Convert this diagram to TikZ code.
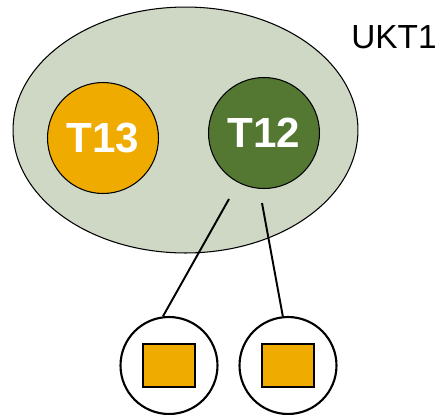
\documentclass[tikz,border=0pt]{standalone}
\usepackage{fontspec}
\setmainfont{Liberation Sans}
\usetikzlibrary{shapes.geometric,positioning}
\definecolor{unitbg}{RGB}{207,216,197}
\definecolor{amber}{RGB}{240,171,0}
\definecolor{leafgreen}{RGB}{84,120,50}
\tikzset{
    unit/.style  = {ellipse, draw=black, line width=0.6pt, fill=unitbg, inner sep=0pt,
                    minimum width=6.9cm, minimum height=4.92cm},
    task/.style  = {circle, draw=black, line width=0.6pt, inner sep=0pt, minimum size=2.22cm,
                    text=white, font=\fontsize{24}{27}\selectfont\bfseries},
    leaf/.style  = {circle, draw=black, line width=1.2pt, fill=white, inner sep=0pt, minimum size=1.94cm},
    block/.style = {rectangle, draw=black, line width=1pt, fill=amber, inner sep=0pt,
                    minimum width=1.05cm, minimum height=0.86cm},
    link/.style  = {draw=black, line width=1.1pt}
}
\begin{document}
\begin{tikzpicture}[x=0.02cm, y=-0.02cm]
    \useasboundingbox (0,0) rectangle (441,414);
    \node[unit]             (ukt)  at (185.5, 130)  {};
    \node[font=\fontsize{19}{22}\selectfont] (name) at (394, 37) {UKT1};
    \node[task, fill=amber]     (t13) at (103, 138) {T13};
    \node[task, fill=leafgreen] (t12) at (264, 133) {T12};
    \node[leaf]  (leafa) at (169, 365.5) {};
    \node[leaf]  (leafb) at (288, 365.5) {};
    \node[block] (boxa)  at (leafa) {};
    \node[block] (boxb)  at (leafb) {};
    \coordinate (sa) at (229, 199);
    \coordinate (sb) at (262, 203);
    \draw[link] (sa) -- (leafa.97);
    \draw[link] (sb) -- (leafb.96);
\end{tikzpicture}
\end{document}
